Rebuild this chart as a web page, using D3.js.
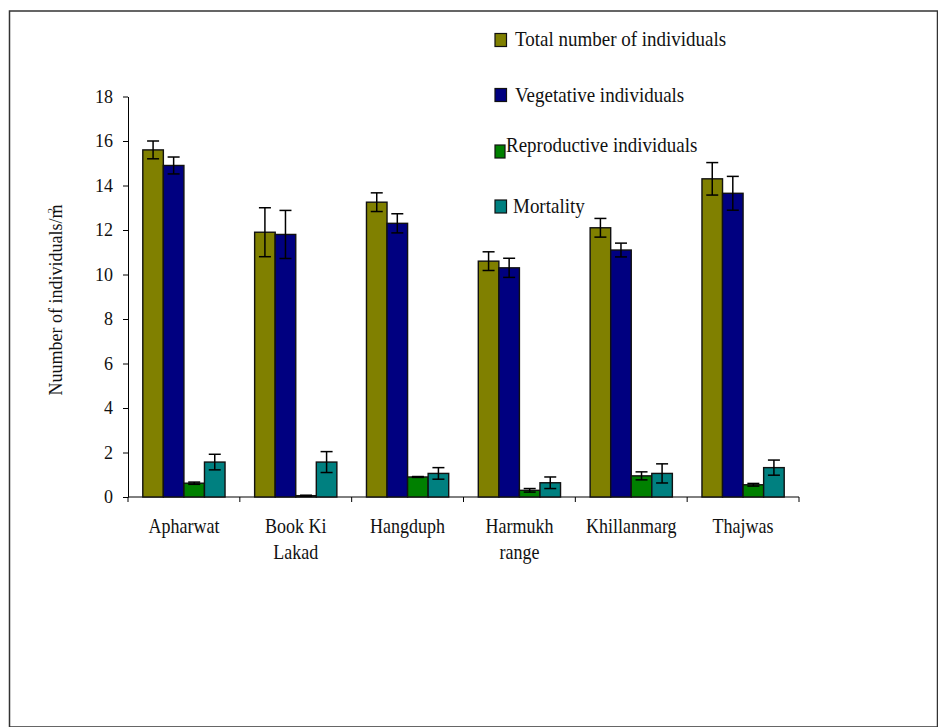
<!DOCTYPE html>
<html>
<head>
<meta charset="utf-8">
<script src="https://cdn.jsdelivr.net/npm/d3@7/dist/d3.min.js"></script>
<style>
  html, body { margin: 0; padding: 0; background: #fff; }
  svg { display: block; }
</style>
</head>
<body>
<svg id="chart" width="938" height="727"></svg>
<script>
// Sites sampled
const sites = ["Apharwat", "Book Ki Lakad", "Hangduph", "Harmukh range", "Khillanmarg", "Thajwas"];
const siteLines = [["Apharwat"], ["Book Ki", "Lakad"], ["Hangduph"], ["Harmukh", "range"], ["Khillanmarg"], ["Thajwas"]];

// Series names
const seriesNames = ["Total number of individuals", "Vegetative individuals", "Reproductive individuals", "Mortality"];

// Means (individuals per m²) and standard errors, by site
const totalVals  = [15.6, 11.9, 13.25, 10.6, 12.1, 14.3];
const totalErr   = [0.4, 1.1, 0.42, 0.42, 0.42, 0.73];
const vegVals    = [14.9, 11.8, 12.3, 10.3, 11.1, 13.65];
const vegErr     = [0.38, 1.08, 0.43, 0.43, 0.31, 0.76];
const reproVals  = [0.62, 0.06, 0.9, 0.3, 0.95, 0.55];
const reproErr   = [0.05, 0.02, 0.02, 0.08, 0.18, 0.06];
const mortVals   = [1.57, 1.57, 1.06, 0.64, 1.06, 1.32];
const mortErr    = [0.35, 0.47, 0.26, 0.26, 0.43, 0.34];

// Y axis ticks
const yTicks = [0, 2, 4, 6, 8, 10, 12, 14, 16, 18];

const colors = ["#808000", "#000080", "#008000", "#008080"];
const values = [totalVals, vegVals, reproVals, mortVals];
const errors = [totalErr, vegErr, reproErr, mortErr];

const FONT = "Liberation Serif";
const svg = d3.select("#chart").attr("font-family", FONT);

// outer frame
svg.append("rect")
  .attr("x", 9.5).attr("y", 11).attr("width", 928).attr("height", 716)
  .attr("fill", "none").attr("stroke", "#333").attr("stroke-width", 1.5);

const plotLeft = 128, plotRight = 799, plotTop = 96.5, plotBottom = 497;

const x0 = d3.scaleBand().domain(sites).range([plotLeft, plotRight]).paddingInner(0).paddingOuter(0);
const x1 = d3.scaleBand().domain(seriesNames).range([0, x0.bandwidth()]).paddingInner(0).paddingOuter(0.72);
const y = d3.scaleLinear().domain([0, 18]).range([plotBottom, plotTop]);

// Y axis
const yAxis = svg.append("g")
  .attr("transform", `translate(${plotLeft},0)`)
  .call(d3.axisLeft(y).tickValues(yTicks).tickSize(5).tickSizeOuter(0).tickPadding(10).tickFormat(d3.format("d")));
yAxis.attr("font-family", FONT).attr("font-size", 18);
yAxis.select(".domain").attr("stroke", "#000").attr("stroke-width", 1);
yAxis.selectAll(".tick line").attr("stroke", "#000");
yAxis.selectAll(".tick text").attr("font-family", FONT).attr("font-size", 18).attr("fill", "#111");

// X axis baseline with ticks at category boundaries
const xAxis = svg.append("g");
xAxis.append("line")
  .attr("x1", plotLeft).attr("x2", plotRight).attr("y1", plotBottom).attr("y2", plotBottom)
  .attr("stroke", "#000").attr("stroke-width", 1);
const bounds = sites.map(s => x0(s)).concat([x0(sites[sites.length - 1]) + x0.bandwidth()]);
xAxis.selectAll(".xt").data(bounds).join("line")
  .attr("x1", d => d).attr("x2", d => d).attr("y1", plotBottom).attr("y2", plotBottom + 5)
  .attr("stroke", "#000").attr("stroke-width", 1);

// Category labels
const labels = svg.append("g");
sites.forEach((s, i) => {
  const cx = x0(s) + x0.bandwidth() / 2;
  const t = labels.append("text")
    .attr("text-anchor", "middle")
    .attr("transform", `translate(${cx},533) scale(1,1.12)`)
    .attr("font-family", FONT).attr("font-size", 18).attr("fill", "#111");
  siteLines[i].forEach((ln, j) => {
    t.append("tspan").attr("x", 0).attr("y", j * 23.5).text(ln);
  });
});

// Bars
const groups = svg.append("g").selectAll("g").data(sites).join("g")
  .attr("transform", d => `translate(${x0(d)},0)`);

seriesNames.forEach((name, k) => {
  groups.append("rect")
    .attr("x", x1(name))
    .attr("width", x1.bandwidth())
    .attr("y", (d, i) => y(values[k][i]))
    .attr("height", (d, i) => y(0) - y(values[k][i]))
    .attr("fill", colors[k])
    .attr("stroke", "#111").attr("stroke-width", 1.4);
});

// Error bars
seriesNames.forEach((name, k) => {
  const cx = x1(name) + x1.bandwidth() / 2;
  const eb = groups.append("g").attr("stroke", "#000").attr("stroke-width", 1.5);
  eb.append("line")
    .attr("x1", cx).attr("x2", cx)
    .attr("y1", (d, i) => y(values[k][i] + errors[k][i]))
    .attr("y2", (d, i) => y(values[k][i] - errors[k][i]));
  eb.append("line")
    .attr("x1", cx - 6).attr("x2", cx + 6)
    .attr("y1", (d, i) => y(values[k][i] + errors[k][i]))
    .attr("y2", (d, i) => y(values[k][i] + errors[k][i]));
  eb.append("line")
    .attr("x1", cx - 6).attr("x2", cx + 6)
    .attr("y1", (d, i) => y(values[k][i] - errors[k][i]))
    .attr("y2", (d, i) => y(values[k][i] - errors[k][i]));
});

// Y axis title
const yt = svg.append("text")
  .attr("transform", "translate(62,300) rotate(-90)")
  .attr("text-anchor", "middle")
  .attr("font-family", FONT).attr("font-size", 18).attr("fill", "#111");
yt.append("tspan").text("Nuumber of individuals/m");
yt.append("tspan").attr("dx", -9).attr("dy", -7).attr("font-size", 11).text("2");

// Legend
const legendItems = [
  { sx: 495, sy: 33.5, sw: 11.5, sh: 13, tx: 515, ty: 46 },
  { sx: 495, sy: 88.5, sw: 11.5, sh: 13, tx: 515, ty: 101.5 },
  { sx: 495, sy: 145, sw: 10, sh: 13, tx: 506, ty: 152 },
  { sx: 495, sy: 200, sw: 11.5, sh: 13, tx: 513, ty: 213 }
];
const legend = svg.append("g");
seriesNames.forEach((name, k) => {
  const it = legendItems[k];
  legend.append("rect")
    .attr("x", it.sx).attr("y", it.sy).attr("width", it.sw).attr("height", it.sh)
    .attr("fill", colors[k]).attr("stroke", "#111").attr("stroke-width", 1.2);
  legend.append("text")
    .attr("transform", `translate(${it.tx},${it.ty}) scale(1,1.12)`)
    .attr("font-family", FONT).attr("font-size", 19).attr("fill", "#111")
    .text(name);
});
</script>
</body>
</html>
